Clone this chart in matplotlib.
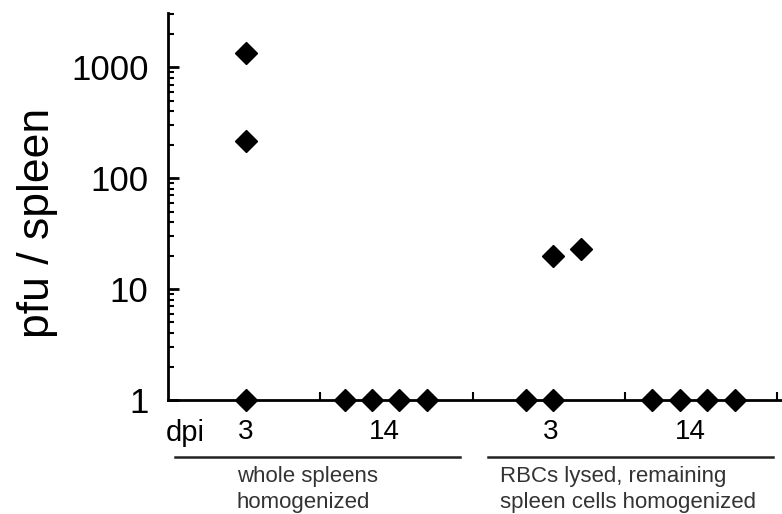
import matplotlib.pyplot as plt
import numpy as np

plt.rcParams['font.family'] = ['Liberation Sans', 'DejaVu Sans']

# data: x position within the group layout, pfu per spleen
x_pos = [0.51, 0.51, 0.51,
         1.16, 1.34, 1.52, 1.70,
         2.35, 2.53, 2.53, 2.71,
         3.18, 3.36, 3.54, 3.72]
pfu = [1, 215, 1350,
       1, 1, 1, 1,
       1, 1, 20, 23,
       1, 1, 1, 1]

dpi_ticks = [0.51, 1.42, 2.51, 3.43]
dpi_labels = ['3', '14', '3', '14']
separators = [1, 2, 3, 4]
group_names = ['whole spleens\nhomogenized',
               'RBCs lysed, remaining\nspleen cells homogenized']

fig = plt.figure(figsize=(7.82, 5.14), dpi=100)
ax = fig.add_axes([168/782, 1-400/514, 614/782, 387/514])

ax.plot(x_pos, pfu, 'D', color='black', ms=11, clip_on=False, zorder=5)

ax.set_yscale('log')
ax.set_ylim(1, 10**3.49)
ax.set_xlim(0, 614/152.3)

ax.spines['top'].set_visible(False)
ax.spines['right'].set_visible(False)
ax.spines['left'].set_linewidth(2)
ax.spines['bottom'].set_linewidth(2)

ax.set_yticks([1, 10, 100, 1000])
ax.set_yticklabels(['1', '10', '100', '1000'])
ax.tick_params(axis='y', which='major', direction='in', length=8, width=2,
               labelsize=25, pad=14)
ax.tick_params(axis='y', which='minor', direction='in', length=4.5, width=1.5)

ax.set_xticks(dpi_ticks)
ax.set_xticklabels(dpi_labels)
ax.set_xticks(separators, minor=True)
ax.tick_params(axis='x', which='major', length=0, labelsize=20, pad=14)
ax.tick_params(axis='x', which='minor', direction='in', length=6, width=1.5)

trans = ax.get_xaxis_transform()
ax.text(0.11, -0.085, 'dpi', transform=trans, fontsize=21,
        ha='center', va='center')

# group underlines and descriptions
ax.plot([0.046, 1.917], [-0.147, -0.147], color='#222222', lw=1.8,
        transform=trans, clip_on=False)
ax.plot([2.10, 3.97], [-0.147, -0.147], color='#222222', lw=1.8,
        transform=trans, clip_on=False)
ax.text(0.45, -0.170, group_names[0], transform=trans, fontsize=16,
        ha='left', va='top', color='#333333', linespacing=1.3)
ax.text(2.18, -0.170, group_names[1], transform=trans, fontsize=16,
        ha='left', va='top', color='#333333', linespacing=1.3)

fig.text(38/782, 1-223/514, 'pfu / spleen', rotation=90, fontsize=32,
         ha='center', va='center')

fig.savefig('out.png', dpi=100)
